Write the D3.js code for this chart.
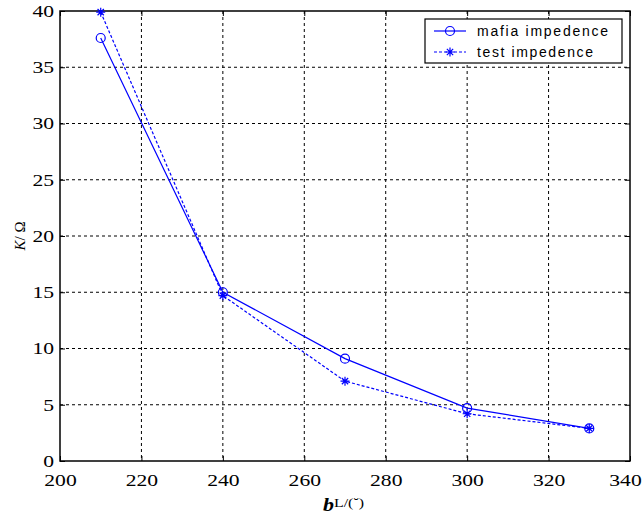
<!DOCTYPE html>
<html>
<head>
<meta charset="utf-8">
<script src="https://d3js.org/d3.v7.min.js"></script>
<style>
  body { margin: 0; background: #fff; }
  svg { display: block; }
  .grid line { stroke: #000; stroke-width: 1; stroke-dasharray: 3 3; }
</style>
</head>
<body>
<svg width="643" height="516"></svg>
<script>
const xValues = [210, 240, 270, 300, 330];
const mafia = [37.6, 15.0, 9.1, 4.7, 2.9];
const test = [39.9, 14.7, 7.1, 4.2, 2.9];
const xTicks = [200, 220, 240, 260, 280, 300, 320, 340];
const yTicks = [0, 5, 10, 15, 20, 25, 30, 35, 40];

const svg = d3.select('svg');
const pLeft = 60, pRight = 630, pTop = 11, pBottom = 461;
const blue = '#0000ff';
const serif = '"Liberation Serif", "Times New Roman", serif';

const x = d3.scaleLinear().domain([200, 340]).range([pLeft, pRight]);
const y = d3.scaleLinear().domain([0, 40]).range([pBottom, pTop]);

// grid
const grid = svg.append('g').attr('class', 'grid');
grid.selectAll('.gx').data(xTicks.slice(1, -1)).enter().append('line')
  .attr('x1', d => x(d)).attr('x2', d => x(d)).attr('y1', pTop).attr('y2', pBottom);
grid.selectAll('.gy').data(yTicks.slice(1, -1)).enter().append('line')
  .attr('y1', d => y(d)).attr('y2', d => y(d)).attr('x1', pLeft).attr('x2', pRight);

// the source picture is stretched sideways, so digits get a wider textLength
const styleTicks = g => {
  g.select('.domain').remove();
  g.selectAll('line').attr('stroke', '#000');
  g.selectAll('text')
    .style('font-family', serif).style('font-size', '17px').attr('fill', '#000')
    .attr('textLength', d => String(d).length * 10.8)
    .attr('lengthAdjust', 'spacingAndGlyphs');
};

// axes
svg.append('g').attr('transform', `translate(0,${pBottom})`)
  .call(d3.axisBottom(x).tickValues(xTicks).tickSizeInner(-5).tickSizeOuter(0).tickPadding(13))
  .call(styleTicks)
  .call(g => g.selectAll('text').filter(d => d === 340).attr('dx', -5));
svg.append('g').attr('transform', `translate(${pLeft},0)`)
  .call(d3.axisLeft(y).tickValues(yTicks).tickSizeInner(-5).tickSizeOuter(0).tickPadding(6))
  .call(styleTicks);
svg.append('g').attr('transform', `translate(0,${pTop})`)
  .call(d3.axisTop(x).tickValues(xTicks).tickSizeInner(-5).tickSizeOuter(0).tickFormat(''))
  .call(g => g.select('.domain').remove());
svg.append('g').attr('transform', `translate(${pRight},0)`)
  .call(d3.axisRight(y).tickValues(yTicks).tickSizeInner(-5).tickSizeOuter(0).tickFormat(''))
  .call(g => g.select('.domain').remove());

svg.append('rect')
  .attr('x', pLeft).attr('y', pTop).attr('width', pRight - pLeft).attr('height', pBottom - pTop)
  .attr('fill', 'none').attr('stroke', '#000').attr('stroke-width', 1.5);

// lines
const line = d3.line().x((d, i) => x(xValues[i])).y(d => y(d));
svg.append('path').datum(mafia).attr('d', line)
  .attr('fill', 'none').attr('stroke', blue).attr('stroke-width', 1.2);
svg.append('path').datum(test).attr('d', line)
  .attr('fill', 'none').attr('stroke', blue).attr('stroke-width', 1.2).attr('stroke-dasharray', '3 2');

function circleMark(g, cx, cy) {
  g.append('circle').attr('cx', cx).attr('cy', cy).attr('r', 4.5)
    .attr('fill', 'none').attr('stroke', blue).attr('stroke-width', 1.2);
}
function starMark(g, cx, cy) {
  const s = 4.5;
  const path = `M${cx - s},${cy}H${cx + s}M${cx},${cy - s}V${cy + s}` +
    `M${cx - s * 0.7},${cy - s * 0.7}L${cx + s * 0.7},${cy + s * 0.7}` +
    `M${cx - s * 0.7},${cy + s * 0.7}L${cx + s * 0.7},${cy - s * 0.7}`;
  g.append('path').attr('d', path).attr('stroke', blue).attr('stroke-width', 1.2).attr('fill', 'none');
}
const marks = svg.append('g');
mafia.forEach((d, i) => circleMark(marks, x(xValues[i]), y(d)));
test.forEach((d, i) => starMark(marks, x(xValues[i]), y(d)));

// legend
const legendNames = ['mafia impedence', 'test impedence'];
const legendWidths = [131, 116];
const lg = svg.append('g');
lg.append('rect').attr('x', 425).attr('y', 19).attr('width', 197).attr('height', 44)
  .attr('fill', '#fff').attr('stroke', '#000').attr('stroke-width', 1.2);
lg.append('line').attr('x1', 434).attr('x2', 466).attr('y1', 31).attr('y2', 31)
  .attr('stroke', blue).attr('stroke-width', 1.2);
circleMark(lg, 450, 31);
lg.append('line').attr('x1', 434).attr('x2', 466).attr('y1', 52).attr('y2', 52)
  .attr('stroke', blue).attr('stroke-width', 1.2).attr('stroke-dasharray', '3 2');
starMark(lg, 450, 52);
lg.selectAll('text').data(legendNames).enter().append('text')
  .attr('x', 477).attr('y', (d, i) => 36 + i * 21)
  .style('font-family', '"Liberation Sans", Arial, sans-serif')
  .style('font-size', '14px')
  .attr('textLength', (d, i) => legendWidths[i]).attr('lengthAdjust', 'spacing')
  .text(d => d);

// axis labels
svg.append('text')
  .attr('transform', `translate(25,${(pTop + pBottom) / 2}) rotate(-90)`)
  .attr('text-anchor', 'middle')
  .style('font-family', serif).style('font-size', '15px')
  .html('<tspan font-style="italic">K</tspan>/ Ω');

const xl = svg.append('text')
  .attr('x', 323).attr('y', 511)
  .attr('textLength', 41).attr('lengthAdjust', 'spacingAndGlyphs')
  .style('font-family', serif);
xl.append('tspan').attr('font-weight', 'bold').attr('font-style', 'italic').style('font-size', '18px').text('b');
xl.append('tspan').attr('dy', -4).style('font-size', '13px').text('L/(˘)');
</script>
</body>
</html>
